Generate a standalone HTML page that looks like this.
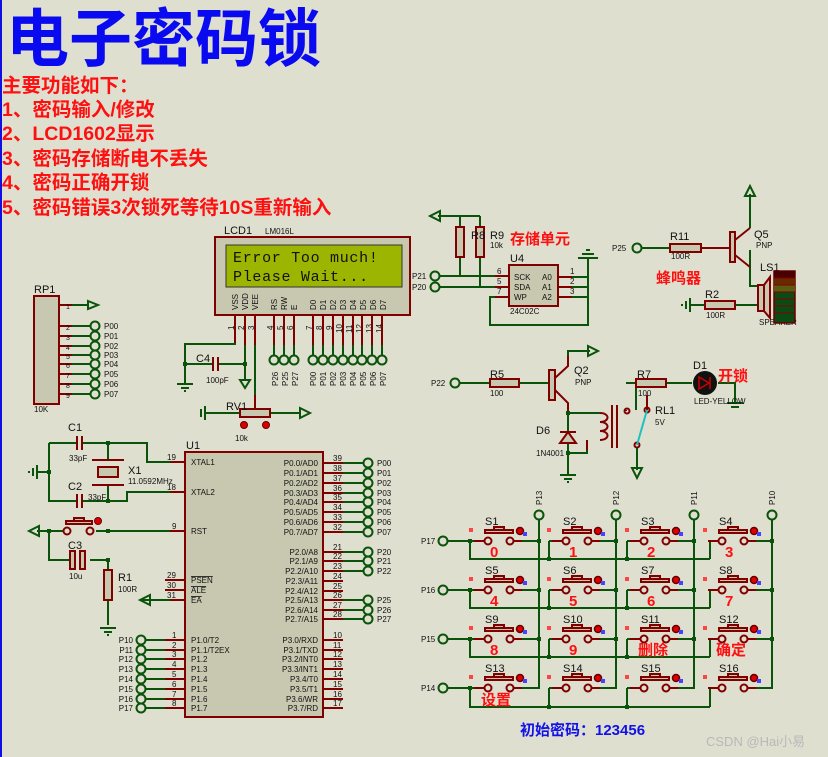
<!DOCTYPE html>
<html><head><meta charset="utf-8"><style>
html,body{margin:0;padding:0;background:#dfdfd0;}
svg{display:block}
text{font-family:"Liberation Sans","Noto Sans CJK SC",sans-serif;}
.g{stroke:#0a530a;stroke-width:2;fill:none}
.r{stroke:#800000;stroke-width:2;fill:none}
.b{fill:#c8c8b0;stroke:#800000;stroke-width:2}
.pc{fill:none;stroke:#0a530a;stroke-width:2}
.s{font-size:8px;fill:#111}
.m{font-size:11px;fill:#111}
.cn{font-family:"Liberation Sans","Noto Sans CJK SC",sans-serif;font-weight:bold;fill:#ff1010}
.j{fill:#0a530a}
.mono{font-family:"Liberation Mono",monospace;}
</style></head><body>
<svg width="828" height="757" viewBox="0 0 828 757" xmlns="http://www.w3.org/2000/svg">
<defs>
<g id="sw">
<line x1="-14" y1="0" x2="-4" y2="0" class="r"/>
<circle cx="0" cy="0" r="3.5" class="r"/>
<circle cx="22" cy="0" r="3.5" class="r"/>
<line x1="26" y1="0" x2="34" y2="0" class="r"/>
<rect x="-3" y="-11" width="28" height="3" class="b"/>
<rect x="6" y="-14" width="10" height="3" class="b"/>
<circle cx="32" cy="-10" r="3.5" fill="#d00" stroke="#600" stroke-width="1.5"/>
<rect x="-19" y="-13" width="4" height="4" fill="#f44"/>
<rect x="35" y="-9" width="4" height="4" fill="#44f"/>
</g>
<g id="gnd"><line x1="-8" y1="0" x2="8" y2="0" class="g"/><line x1="-4" y1="4" x2="4" y2="4" class="g" stroke-width="1.5"/><line x1="-1" y1="7" x2="1" y2="7" class="g" stroke-width="1"/></g>
</defs>
<rect x="0" y="0" width="2" height="757" fill="#1010e0"/>

<!-- title -->
<text x="6" y="61" font-size="63" font-weight="bold" fill="#0a0af0">电子密码锁</text>
<g class="cn" font-size="19.5">
<text x="2" y="92">主要功能如下：</text>
<text x="2" y="116">1、密码输入/修改</text>
<text x="2" y="140">2、LCD1602显示</text>
<text x="2" y="165">3、密码存储断电不丢失</text>
<text x="2" y="189">4、密码正确开锁</text>
<text x="2" y="214">5、密码错误3次锁死等待10S重新输入</text>
</g>

<!-- LCD -->
<text x="224" y="234" class="m" font-size="12">LCD1</text><text x="265" y="234" class="s" font-size="7">LM016L</text>
<rect x="215" y="237" width="195" height="78" class="b"/>
<rect x="226" y="245" width="176" height="42" fill="#9cb500" stroke="#333" stroke-width="1"/>
<text x="233" y="262" class="mono" font-size="15" fill="#111" style="font-family:'Liberation Mono',monospace" letter-spacing="0.7">Error Too much!</text>
<text x="233" y="281" class="mono" font-size="15" fill="#111" style="font-family:'Liberation Mono',monospace" letter-spacing="0.7">Please Wait...</text>
<g class="s" font-size="7">
<text transform="translate(238,310) rotate(-90)">VSS</text><text transform="translate(248,310) rotate(-90)">VDD</text><text transform="translate(258,310) rotate(-90)">VEE</text>
<text transform="translate(277,310) rotate(-90)">RS</text><text transform="translate(287,310) rotate(-90)">RW</text><text transform="translate(297,310) rotate(-90)">E</text>
<text transform="translate(316,310) rotate(-90)">D0</text><text transform="translate(326,310) rotate(-90)">D1</text><text transform="translate(336,310) rotate(-90)">D2</text><text transform="translate(346,310) rotate(-90)">D3</text><text transform="translate(356,310) rotate(-90)">D4</text><text transform="translate(366,310) rotate(-90)">D5</text><text transform="translate(376,310) rotate(-90)">D6</text><text transform="translate(386,310) rotate(-90)">D7</text>
<text transform="translate(234,330) rotate(-90)">1</text><text transform="translate(244,330) rotate(-90)">2</text><text transform="translate(254,330) rotate(-90)">3</text><text transform="translate(273,330) rotate(-90)">4</text><text transform="translate(283,330) rotate(-90)">5</text><text transform="translate(293,330) rotate(-90)">6</text><text transform="translate(312,330) rotate(-90)">7</text><text transform="translate(322,330) rotate(-90)">8</text><text transform="translate(332,330) rotate(-90)">9</text><text transform="translate(342,333) rotate(-90)">10</text><text transform="translate(352,333) rotate(-90)">11</text><text transform="translate(362,333) rotate(-90)">12</text><text transform="translate(372,333) rotate(-90)">13</text><text transform="translate(382,333) rotate(-90)">14</text>
<text transform="translate(278,386) rotate(-90)">P26</text><text transform="translate(288,386) rotate(-90)">P25</text><text transform="translate(298,386) rotate(-90)">P27</text>
<text transform="translate(316,386) rotate(-90)">P00</text><text transform="translate(326,386) rotate(-90)">P01</text><text transform="translate(336,386) rotate(-90)">P02</text><text transform="translate(346,386) rotate(-90)">P03</text><text transform="translate(356,386) rotate(-90)">P04</text><text transform="translate(366,386) rotate(-90)">P05</text><text transform="translate(376,386) rotate(-90)">P06</text><text transform="translate(386,386) rotate(-90)">P07</text>
</g>
<path class="r" d="M235 315V345M245 315V345M255 315V345M274 315V345M284 315V345M294 315V345M313 315V345M323 315V345M333 315V345M343 315V345M353 315V345M362 315V345M372 315V345M382 315V345"/>
<path class="g" d="M274 345V355M284 345V355M294 345V355M313 345V355M323 345V355M333 345V355M343 345V355M353 345V355M362 345V355M372 345V355M382 345V355"/>
<g class="pc"><circle cx="274" cy="360" r="4.5"/><circle cx="284" cy="360" r="4.5"/><circle cx="294" cy="360" r="4.5"/><circle cx="313" cy="360" r="4.5"/><circle cx="323" cy="360" r="4.5"/><circle cx="333" cy="360" r="4.5"/><circle cx="343" cy="360" r="4.5"/><circle cx="353" cy="360" r="4.5"/><circle cx="362" cy="360" r="4.5"/><circle cx="372" cy="360" r="4.5"/><circle cx="382" cy="360" r="4.5"/></g>
<path class="g" d="M235 345V344H185V384M185 364H213M218 364H245M245 345V380M255 345V395"/>
<path class="r" d="M213 357V371M218 357V371"/>
<use href="#gnd" x="185" y="384"/>
<rect x="183" y="362" width="4" height="4" class="j"/><rect x="243" y="362" width="4" height="4" class="j"/>
<text x="196" y="362" class="m" font-size="12">C4</text><text x="206" y="383" class="s">100pF</text>
<path class="g" d="M240 380L245 388L250 380Z"/>
<!-- RV1 -->
<path class="r" d="M255 395V409"/>
<path class="g" d="M205 413H240M270 413H300"/>
<path class="g" d="M205 406V420M201 409V417M300 408L310 413L300 418Z"/>
<rect x="240" y="409" width="30" height="8" class="b"/>
<text x="226" y="410" class="m" font-size="12">RV1</text><text x="235" y="441" class="s">10k</text>
<circle cx="244" cy="425" r="3.5" fill="#d00" stroke="#600"/><circle cx="266" cy="425" r="3.5" fill="#d00" stroke="#600"/>

<!-- RP1 -->
<text x="34" y="293" class="m" font-size="12">RP1</text>
<rect x="34" y="296" width="25" height="108" class="b"/>
<text x="34" y="412" class="s" font-size="7">10K</text>
<path class="r" d="M59 305H72M59 326H72M59 336H72M59 346H72M59 355H72M59 364H72M59 374H72M59 384H72M59 394H72"/>
<path class="g" d="M72 305H88M88 301L98 305L88 309ZM72 326H90M72 336H90M72 346H90M72 355H90M72 364H90M72 374H90M72 384H90M72 394H90"/>
<g class="pc"><circle cx="95" cy="326" r="4.5"/><circle cx="95" cy="336" r="4.5"/><circle cx="95" cy="346" r="4.5"/><circle cx="95" cy="355" r="4.5"/><circle cx="95" cy="364" r="4.5"/><circle cx="95" cy="374" r="4.5"/><circle cx="95" cy="384" r="4.5"/><circle cx="95" cy="394" r="4.5"/></g>
<g class="s"><text x="104" y="329">P00</text><text x="104" y="339">P01</text><text x="104" y="349">P02</text><text x="104" y="358">P03</text><text x="104" y="367">P04</text><text x="104" y="377">P05</text><text x="104" y="387">P06</text><text x="104" y="397">P07</text>
<text x="66" y="309" font-size="7">1</text><text x="66" y="330" font-size="7">2</text><text x="66" y="340" font-size="7">3</text><text x="66" y="350" font-size="7">4</text><text x="66" y="359" font-size="7">5</text><text x="66" y="368" font-size="7">6</text><text x="66" y="378" font-size="7">7</text><text x="66" y="388" font-size="7">8</text><text x="66" y="398" font-size="7">9</text></g>

<!-- Crystal / reset -->
<path class="g" d="M49 443H77M82 443H147V462H170M108 443V460M108 485V501M49 443V501H77M82 501H127V492H170M37 472H49"/>
<path class="g" d="M37 465V479M33 468V476M29 471V473"/>
<path class="r" d="M77 436V450M82 436V450M77 494V508M82 494V508M92 460H124M92 485H124M170 462H185M170 492H185"/>
<rect x="98" y="467" width="20" height="10" class="b"/>
<rect x="47" y="470" width="4" height="4" class="j"/><rect x="106" y="441" width="4" height="4" class="j"/><rect x="106" y="499" width="4" height="4" class="j"/>
<text x="68" y="431" class="m" font-size="12">C1</text><text x="69" y="461" class="s" font-size="7">33pF</text>
<text x="68" y="490" class="m" font-size="12">C2</text><text x="88" y="500" class="s" font-size="7">33pF</text>
<text x="128" y="474" class="m" font-size="12">X1</text><text x="128" y="484" class="s" font-size="7">11.0592MHz</text>
<path class="g" d="M37 531H63M96 531H170M49 531V560H70M90 560H108V570M108 600V625M140 600H170"/>
<path class="g" d="M29 531L39 526L39 536Z M140 600L150 595L150 605Z"/>
<path class="r" d="M170 531H185M170 600H185M165 580H185M165 590H185"/>
<circle cx="67" cy="531" r="3.5" class="r"/><circle cx="90" cy="531" r="3.5" class="r"/>
<rect x="66" y="521" width="26" height="3" class="b"/><rect x="74" y="518" width="10" height="3" class="b"/>
<circle cx="98" cy="521" r="3.5" fill="#d00" stroke="#600"/>
<rect x="70" y="551" width="5" height="18" class="b"/><rect x="80" y="551" width="5" height="18" fill="#c8c8b0" stroke="#800000" stroke-width="2"/>
<rect x="104" y="570" width="8" height="30" class="b"/>
<use href="#gnd" x="108" y="628"/>
<rect x="47" y="529" width="4" height="4" class="j"/><rect x="106" y="529" width="4" height="4" class="j"/><rect x="106" y="558" width="4" height="4" class="j"/>
<text x="68" y="549" class="m" font-size="12">C3</text><text x="69" y="579" class="s" font-size="7">10u</text>
<text x="118" y="581" class="m" font-size="12">R1</text><text x="118" y="592" class="s" font-size="7">100R</text>

<!-- U1 -->
<text x="186" y="449" class="m" font-size="12">U1</text>
<rect x="185" y="452" width="138" height="265" class="b"/>
<g class="s" font-size="7">
<text x="191" y="465">XTAL1</text><text x="191" y="495">XTAL2</text><text x="191" y="534">RST</text>
<text x="191" y="583" text-decoration="overline">PSEN</text><text x="191" y="593" text-decoration="overline">ALE</text><text x="191" y="603" text-decoration="overline">EA</text>
<text x="191" y="643">P1.0/T2</text><text x="191" y="653">P1.1/T2EX</text><text x="191" y="662">P1.2</text><text x="191" y="672">P1.3</text><text x="191" y="682">P1.4</text><text x="191" y="692">P1.5</text><text x="191" y="702">P1.6</text><text x="191" y="711">P1.7</text>
<g text-anchor="end">
<text x="318" y="466">P0.0/AD0</text><text x="318" y="476">P0.1/AD1</text><text x="318" y="486">P0.2/AD2</text><text x="318" y="496">P0.3/AD3</text><text x="318" y="505">P0.4/AD4</text><text x="318" y="515">P0.5/AD5</text><text x="318" y="525">P0.6/AD6</text><text x="318" y="535">P0.7/AD7</text>
<text x="318" y="555">P2.0/A8</text><text x="318" y="564">P2.1/A9</text><text x="318" y="574">P2.2/A10</text><text x="318" y="584">P2.3/A11</text><text x="318" y="594">P2.4/A12</text><text x="318" y="603">P2.5/A13</text><text x="318" y="613">P2.6/A14</text><text x="318" y="622">P2.7/A15</text>
<text x="318" y="643">P3.0/RXD</text><text x="318" y="653">P3.1/TXD</text><text x="318" y="662">P3.2/INT0</text><text x="318" y="672">P3.3/INT1</text><text x="318" y="682">P3.4/T0</text><text x="318" y="692">P3.5/T1</text><text x="318" y="702">P3.6/WR</text><text x="318" y="711">P3.7/RD</text>
</g>
<text x="167" y="460">19</text><text x="167" y="490">18</text><text x="172" y="529">9</text><text x="167" y="578">29</text><text x="167" y="588">30</text><text x="167" y="598">31</text>
<text x="172" y="638">1</text><text x="172" y="648">2</text><text x="172" y="657">3</text><text x="172" y="667">4</text><text x="172" y="677">5</text><text x="172" y="687">6</text><text x="172" y="697">7</text><text x="172" y="706">8</text>
<text x="333" y="461">39</text><text x="333" y="471">38</text><text x="333" y="481">37</text><text x="333" y="491">36</text><text x="333" y="500">35</text><text x="333" y="510">34</text><text x="333" y="520">33</text><text x="333" y="530">32</text>
<text x="333" y="550">21</text><text x="333" y="559">22</text><text x="333" y="569">23</text><text x="333" y="579">24</text><text x="333" y="589">25</text><text x="333" y="598">26</text><text x="333" y="608">27</text><text x="333" y="617">28</text>
<text x="333" y="638">10</text><text x="333" y="648">11</text><text x="333" y="657">12</text><text x="333" y="667">13</text><text x="333" y="677">14</text><text x="333" y="687">15</text><text x="333" y="697">16</text><text x="333" y="706">17</text>
</g>
<path class="r" d="M323 463H343M323 473H343M323 483H343M323 493H343M323 502H343M323 512H343M323 522H343M323 532H343M323 552H343M323 561H343M323 571H343M323 581H343M323 591H343M323 600H343M323 610H343M323 619H343M323 640H343M323 650H343M323 659H343M323 669H343M323 679H343M323 689H343M323 699H343M323 708H343M165 640H185M165 650H185M165 659H185M165 669H185M165 679H185M165 689H185M165 699H185M165 708H185"/>
<path class="g" d="M343 463H363M343 473H363M343 483H363M343 493H363M343 502H363M343 512H363M343 522H363M343 532H363M343 552H363M343 561H363M343 571H363M343 600H363M343 610H363M343 619H363M146 640H165M146 650H165M146 659H165M146 669H165M146 679H165M146 689H165M146 699H165M146 708H165"/>
<g class="pc"><circle cx="368" cy="463" r="4.5"/><circle cx="368" cy="473" r="4.5"/><circle cx="368" cy="483" r="4.5"/><circle cx="368" cy="493" r="4.5"/><circle cx="368" cy="502" r="4.5"/><circle cx="368" cy="512" r="4.5"/><circle cx="368" cy="522" r="4.5"/><circle cx="368" cy="532" r="4.5"/><circle cx="368" cy="552" r="4.5"/><circle cx="368" cy="561" r="4.5"/><circle cx="368" cy="571" r="4.5"/><circle cx="368" cy="600" r="4.5"/><circle cx="368" cy="610" r="4.5"/><circle cx="368" cy="619" r="4.5"/>
<circle cx="141" cy="640" r="4.5"/><circle cx="141" cy="650" r="4.5"/><circle cx="141" cy="659" r="4.5"/><circle cx="141" cy="669" r="4.5"/><circle cx="141" cy="679" r="4.5"/><circle cx="141" cy="689" r="4.5"/><circle cx="141" cy="699" r="4.5"/><circle cx="141" cy="708" r="4.5"/></g>
<g class="s"><text x="377" y="466">P00</text><text x="377" y="476">P01</text><text x="377" y="486">P02</text><text x="377" y="496">P03</text><text x="377" y="505">P04</text><text x="377" y="515">P05</text><text x="377" y="525">P06</text><text x="377" y="535">P07</text><text x="377" y="555">P20</text><text x="377" y="564">P21</text><text x="377" y="574">P22</text><text x="377" y="603">P25</text><text x="377" y="613">P26</text><text x="377" y="622">P27</text>
<g text-anchor="end"><text x="133" y="643">P10</text><text x="133" y="653">P11</text><text x="133" y="662">P12</text><text x="133" y="672">P13</text><text x="133" y="682">P14</text><text x="133" y="692">P15</text><text x="133" y="702">P16</text><text x="133" y="711">P17</text></g></g>

<!-- EEPROM -->
<path class="g" d="M438 216H480M460 216V227M480 216V227M460 257V276M480 257V287M440 276H495M440 287H495M588 258V325H490V297H495M558 277H588M558 287H588M558 297H588M578 258H598M582 254H594M586 250H590"/>
<path class="g" d="M430 216L440 211L440 221Z"/>
<path class="r" d="M495 276H509M495 287H509M495 297H509M558 277H572M558 287H572M558 297H572"/>
<rect x="456" y="227" width="8" height="30" class="b"/><rect x="476" y="227" width="8" height="30" class="b"/>
<g class="pc"><circle cx="435" cy="276" r="4.5"/><circle cx="435" cy="287" r="4.5"/></g>
<text x="412" y="279" class="s">P21</text><text x="412" y="290" class="s">P20</text>
<text x="471" y="239" class="m" font-size="12">R8</text><text x="490" y="239" class="m" font-size="12">R9</text><text x="490" y="248" class="s" font-size="7">10k</text>
<text x="510" y="244" class="cn" font-size="15">存储单元</text>
<rect x="509" y="265" width="49" height="41" class="b"/>
<text x="510" y="262" class="m" font-size="12">U4</text>
<g class="s" font-size="7"><text x="514" y="280">SCK</text><text x="514" y="290">SDA</text><text x="514" y="300">WP</text><text x="542" y="280">A0</text><text x="542" y="290">A1</text><text x="542" y="300">A2</text><text x="510" y="314">24C02C</text><text x="497" y="274">6</text><text x="497" y="284">5</text><text x="497" y="294">7</text><text x="570" y="274">1</text><text x="570" y="284">2</text><text x="570" y="294">3</text></g>

<!-- Buzzer -->
<circle cx="637" cy="248" r="4.5" class="pc"/>
<text x="612" y="251" class="s">P25</text>
<path class="g" d="M642 248H670M750 228V194M750 250V286H758M690 305H705M735 305H758"/>
<path class="g" d="M745 196L750 186L755 196Z M690 298V312M686 301V309M682 304V306"/>
<path class="r" d="M701 248H730M735 240L750 228M735 255L750 267"/>
<rect x="670" y="244" width="31" height="8" class="b"/>
<rect x="730" y="232" width="5" height="30" class="b"/>
<rect x="705" y="301" width="30" height="8" class="b"/>
<text x="670" y="240" class="m" font-size="12">R11</text><text x="671" y="259" class="s" font-size="7">100R</text>
<text x="754" y="238" class="m" font-size="12">Q5</text><text x="756" y="248" class="s" font-size="7">PNP</text>
<text x="705" y="298" class="m" font-size="12">R2</text><text x="706" y="318" class="s" font-size="7">100R</text>
<text x="656" y="283" class="cn" font-size="15">蜂鸣器</text>
<rect x="758" y="285" width="6" height="26" class="b"/><path d="M764 285L770 277V318L764 311Z" class="b"/>
<text x="760" y="271" class="m" font-size="12">LS1</text><text x="759" y="325" class="s" font-size="7">SPEAKER</text>
<rect x="774" y="271" width="21" height="52" fill="#0c4a14" stroke="#600" stroke-width="1.5"/>
<rect x="774" y="271" width="21" height="7" fill="#4a0000"/><rect x="774" y="278" width="21" height="7" fill="#6a2a00"/><rect x="774" y="285" width="21" height="7" fill="#5a5a10"/>
<path d="M774 278H795M774 285H795M774 292H795M774 299H795M774 306H795M774 313H795" stroke="#800000" stroke-width="1"/>

<!-- relay / LED -->
<circle cx="455" cy="383" r="4.5" class="pc"/><text x="431" y="386" class="s">P22</text>
<path class="g" d="M460 383H490M519 383H549M568 356V351H590M568 413V453M568 413H600M568 453H587V440M626 383H636V410M666 383H692M718 383H735V403"/>
<path class="g" d="M588 346L598 351L588 356Z M727 403H743M731 407H739"/>
<path class="r" d="M555 378L568 366V356M555 390L568 403V413M587 440V450M626 410V411M647 395V410"/>
<rect x="490" y="379" width="29" height="8" class="b"/>
<rect x="549" y="370" width="6" height="30" class="b"/>
<path d="M600 413c10 0 10 9 0 9c10 0 10 9 0 9c10 0 10 9 0 9" class="r"/>
<path class="r" d="M612 405V448M617 405V448"/>
<path d="M560 443H576L568 432Z" fill="#c8c8b0" stroke="#800000" stroke-width="2"/><path class="r" d="M560 432H576"/>
<use href="#gnd" x="568" y="475"/><path class="g" d="M568 453V475"/>
<rect x="566" y="411" width="4" height="4" class="j"/><rect x="566" y="451" width="4" height="4" class="j"/>
<text x="490" y="378" class="m" font-size="12">R5</text><text x="490" y="396" class="s" font-size="7">100</text>
<text x="574" y="374" class="m" font-size="12">Q2</text><text x="575" y="385" class="s" font-size="7">PNP</text>
<text x="536" y="434" class="m" font-size="12">D6</text><text x="536" y="456" class="s" font-size="7">1N4001</text>
<rect x="636" y="379" width="30" height="8" class="b"/>
<text x="637" y="378" class="m" font-size="12">R7</text><text x="638" y="396" class="s" font-size="7">100</text>
<circle cx="627" cy="411" r="2.5" class="r"/><circle cx="647" cy="410" r="2.5" class="r"/><circle cx="637" cy="445" r="2.5" class="r"/>
<path d="M647 410L637 445" stroke="#20c0c0" stroke-width="2"/>
<path class="g" d="M637 448V470M632 468L637 478L642 468Z"/>
<text x="655" y="414" class="m" font-size="12">RL1</text><text x="655" y="425" class="s" font-size="7">5V</text>
<circle cx="705" cy="383" r="12" fill="#111"/><path d="M699 377V389L709 383ZM710 377V389" stroke="#c00" stroke-width="1.5" fill="none"/>
<text x="693" y="369" class="m" font-size="12">D1</text><text x="694" y="404" class="s" font-size="7">LED-YELLOW</text>
<text x="718" y="381" class="cn" font-size="15">开锁</text>

<!-- Keypad -->
<g class="g">
<path d="M539 520V688H521M616 520V688H599M694 520V688H677M772 520V688H755"/>
<path d="M448 541H474M448 590H474M448 639H474M448 688H474"/>
<path d="M470 541V559H710M549 541V559M627 541V559M710 541V559"/>
<path d="M470 590V608H710M549 590V608M627 590V608M710 590V608"/>
<path d="M470 639V657H710M549 639V657M627 639V657M710 639V657"/>
<path d="M470 688V707H710M549 688V707M627 688V707M710 688V707"/>
<path d="M521 541H539M599 541H616M677 541H694M755 541H772M521 590H539M599 590H616M677 590H694M755 590H772M521 639H539M599 639H616M677 639H694M755 639H772"/>
<path d="M549 541H552M627 541H630M710 541H708M549 590H552M627 590H630M710 590H708M549 639H552M627 639H630M710 639H708M549 688H552M627 688H630M710 688H708"/>
</g>
<g class="pc"><circle cx="539" cy="515" r="4.5"/><circle cx="616" cy="515" r="4.5"/><circle cx="694" cy="515" r="4.5"/><circle cx="772" cy="515" r="4.5"/>
<circle cx="443" cy="541" r="4.5"/><circle cx="443" cy="590" r="4.5"/><circle cx="443" cy="639" r="4.5"/><circle cx="443" cy="688" r="4.5"/></g>
<g class="s" font-size="7"><text transform="translate(542,505) rotate(-90)">P13</text><text transform="translate(619,505) rotate(-90)">P12</text><text transform="translate(697,505) rotate(-90)">P11</text><text transform="translate(775,505) rotate(-90)">P10</text>
<text x="421" y="544">P17</text><text x="421" y="593">P16</text><text x="421" y="642">P15</text><text x="421" y="691">P14</text></g>
<use href="#sw" x="488" y="541"/><use href="#sw" x="566" y="541"/><use href="#sw" x="644" y="541"/><use href="#sw" x="722" y="541"/>
<use href="#sw" x="488" y="590"/><use href="#sw" x="566" y="590"/><use href="#sw" x="644" y="590"/><use href="#sw" x="722" y="590"/>
<use href="#sw" x="488" y="639"/><use href="#sw" x="566" y="639"/><use href="#sw" x="644" y="639"/><use href="#sw" x="722" y="639"/>
<use href="#sw" x="488" y="688"/><use href="#sw" x="566" y="688"/><use href="#sw" x="644" y="688"/><use href="#sw" x="722" y="688"/>
<g class="j"><rect x="468" y="539" width="4" height="4"/><rect x="468" y="588" width="4" height="4"/><rect x="468" y="637" width="4" height="4"/><rect x="468" y="686" width="4" height="4"/>
<rect x="537" y="539" width="4" height="4"/><rect x="614" y="539" width="4" height="4"/><rect x="692" y="539" width="4" height="4"/><rect x="770" y="539" width="4" height="4"/>
<rect x="537" y="588" width="4" height="4"/><rect x="614" y="588" width="4" height="4"/><rect x="692" y="588" width="4" height="4"/><rect x="770" y="588" width="4" height="4"/>
<rect x="537" y="637" width="4" height="4"/><rect x="614" y="637" width="4" height="4"/><rect x="692" y="637" width="4" height="4"/><rect x="770" y="637" width="4" height="4"/>
<rect x="547" y="557" width="4" height="4"/><rect x="625" y="557" width="4" height="4"/><rect x="547" y="606" width="4" height="4"/><rect x="625" y="606" width="4" height="4"/><rect x="547" y="655" width="4" height="4"/><rect x="625" y="655" width="4" height="4"/><rect x="547" y="705" width="4" height="4"/><rect x="625" y="705" width="4" height="4"/></g>
<g class="m" font-size="12">
<text x="485" y="525">S1</text><text x="563" y="525">S2</text><text x="641" y="525">S3</text><text x="719" y="525">S4</text>
<text x="485" y="574">S5</text><text x="563" y="574">S6</text><text x="641" y="574">S7</text><text x="719" y="574">S8</text>
<text x="485" y="623">S9</text><text x="563" y="623">S10</text><text x="641" y="623">S11</text><text x="719" y="623">S12</text>
<text x="485" y="672">S13</text><text x="563" y="672">S14</text><text x="641" y="672">S15</text><text x="719" y="672">S16</text>
</g>
<g class="cn" font-size="15">
<text x="490" y="557">0</text><text x="569" y="557">1</text><text x="647" y="557">2</text><text x="725" y="557">3</text>
<text x="490" y="606">4</text><text x="569" y="606">5</text><text x="647" y="606">6</text><text x="725" y="606">7</text>
<text x="490" y="655">8</text><text x="569" y="655">9</text><text x="638" y="655">删除</text><text x="716" y="655">确定</text>
<text x="481" y="705">设置</text>
</g>
<text x="520" y="735" font-size="15" font-weight="bold" fill="#1010e8">初始密码：123456</text>
<text x="706" y="746" font-size="13" fill="#b8b8b8">CSDN @Hai小易</text>
</svg>
</body></html>
